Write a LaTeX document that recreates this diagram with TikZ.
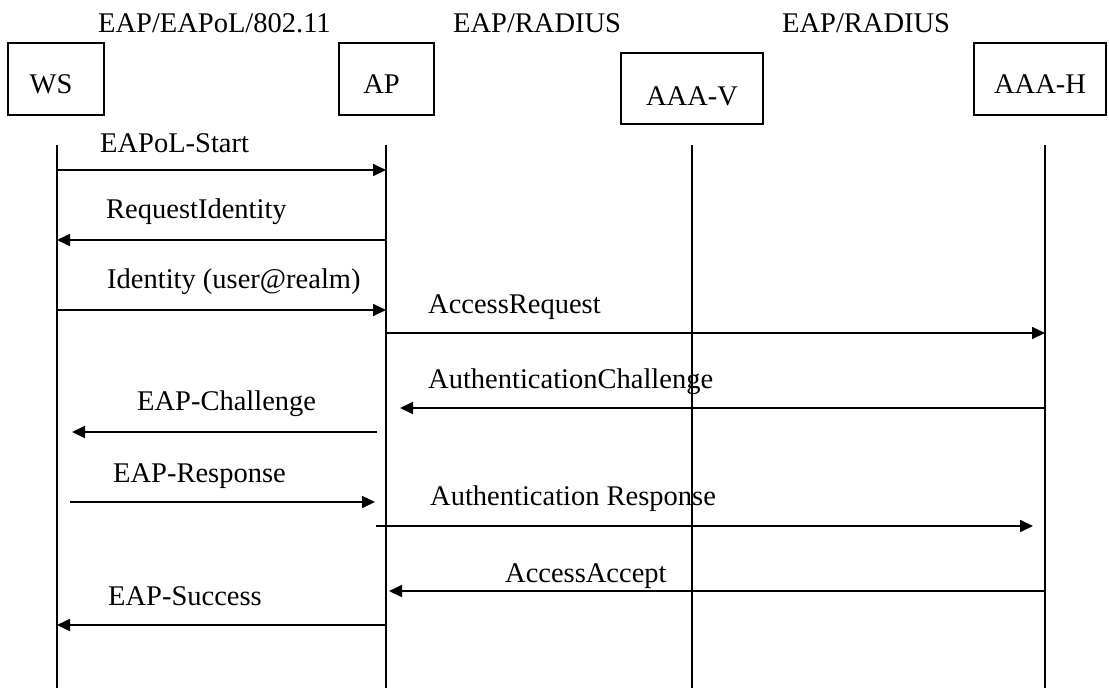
\documentclass[tikz,border=0pt]{standalone}
\usepackage{fontspec}
\setmainfont{Liberation Serif}
\usetikzlibrary{arrows.meta}
\begin{document}
\begin{tikzpicture}[x=1pt,y=-1pt,
  lbl/.style={anchor=base west,inner sep=0pt,font=\fontsize{28.5}{30}\selectfont},
  entity/.style={draw,line width=1.6pt,inner sep=0pt,font=\fontsize{28.5}{30}\selectfont,text height=19pt,text depth=0pt},
  life/.style={line width=1.7pt},
  msg/.style={line width=1.7pt,-{Triangle[length=13pt,width=12pt]}}]
\useasboundingbox[fill=white] (0,0) rectangle (1109,688);
% header labels
\node[lbl] (h1) at (98,32) {EAP/EAPoL/802.11};
\node[lbl] (h2) at (453,32) {EAP/RADIUS};
\node[lbl] (h3) at (782,32) {EAP/RADIUS};
% entities
\node[entity,minimum width=96pt,minimum height=72pt] (ws) at (56,79) {\raisebox{-5pt}{WS}\hspace*{10pt}};
\node[entity,minimum width=95pt,minimum height=72pt] (ap) at (386.5,79) {\raisebox{-5pt}{AP}\hspace*{10pt}};
\node[entity,minimum width=142pt,minimum height=71pt] (aaav) at (692,88.5) {\raisebox{-7pt}{AAA-V}};
\node[entity,minimum width=132pt,minimum height=72pt] (aaah) at (1040,79) {\raisebox{-5pt}{AAA-H}};
% lifelines
\coordinate (wsT) at (57,145);
\coordinate (apT) at (386,145);
\coordinate (avT) at (692,145);
\coordinate (ahT) at (1045,145);
\coordinate (wsB) at (57,688);
\coordinate (apB) at (386,688);
\coordinate (avB) at (692,688);
\coordinate (ahB) at (1045,688);
\draw[life] (wsT) -- (wsB);
\draw[life] (apT) -- (apB);
\draw[life] (avT) -- (avB);
\draw[life] (ahT) -- (ahB);
% free ends
\coordinate (chTip) at (400,408);
\coordinate (ecStart) at (377,432);
\coordinate (ecTip) at (72,432);
\coordinate (erStart) at (70,502);
\coordinate (erTip) at (375,502);
\coordinate (arStart) at (376,526);
\coordinate (arTip) at (1033,526);
\coordinate (aaTip) at (389,591);
% messages
\draw[msg] (wsT |- 0,170) -- (apT |- 0,170);
\node[lbl] (m1) at (100,152) {EAPoL-Start};
\draw[msg] (apT |- 0,240) -- (wsT |- 0,240);
\node[lbl] (m2) at (106,218) {RequestIdentity};
\draw[msg] (wsT |- 0,310) -- (apT |- 0,310);
\node[lbl] (m3) at (107,288) {Identity (user@realm)};
\draw[msg] (apT |- 0,333) -- (ahT |- 0,333);
\node[lbl] (m4) at (428,313) {AccessRequest};
\draw[msg] (ahT |- chTip) -- (chTip);
\node[lbl] (m5) at (428,388) {AuthenticationChallenge};
\draw[msg] (ecStart) -- (ecTip);
\node[lbl] (m6) at (137,410) {EAP-Challenge};
\draw[msg] (erStart) -- (erTip);
\node[lbl] (m7) at (113,482) {EAP-Response};
\draw[msg] (arStart) -- (arTip);
\node[lbl] (m8) at (430,505) {Authentication Response};
\draw[msg] (ahT |- aaTip) -- (aaTip);
\node[lbl] (m9) at (505,582) {AccessAccept};
\draw[msg] (apT |- 0,625) -- (wsT |- 0,625);
\node[lbl] (m10) at (108,605) {EAP-Success};
\end{tikzpicture}
\end{document}
